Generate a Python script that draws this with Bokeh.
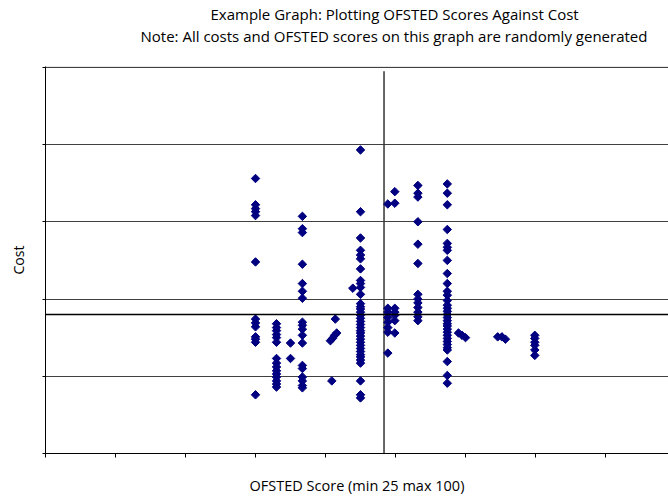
import numpy as np
from bokeh.plotting import figure
from bokeh.models import Title, Span, FixedTicker
from bokeh.embed import file_html
from bokeh.resources import INLINE

# ---- data ----
title_line1 = "Example Graph: Plotting OFSTED Scores Against Cost"
title_line2 = "Note: All costs and OFSTED scores on this graph are randomly generated"
x_label = "OFSTED Score (min 25 max 100)"
y_label = "Cost"

x_ticks = [0, 10, 20, 30, 40, 50, 60, 70, 80]
y_ticks = [0, 1, 2, 3, 4, 5]

ofsted_scores = (
    [30.0] * 13
    + [33.0] * 15
    + [35.0] * 2
    + [36.7] * 18
    + [40.7, 41.0, 41.3, 41.6, 41.4, 40.9]
    + [43.9]
    + [45.0] * 35
    + [48.9] * 8
    + [49.9] * 7
    + [53.2] * 13
    + [57.4] * 32
    + [59.0, 59.5, 60.0]
    + [64.6, 65.2, 65.7]
    + [69.9] * 6
)
costs = (
    [3.56, 3.22, 3.17, 3.13, 3.08, 2.48, 1.74, 1.69, 1.64, 1.51, 1.48, 1.44, 0.76]
    + [1.68, 1.63, 1.59, 1.54, 1.50, 1.44, 1.23, 1.17, 1.12, 1.07, 1.03, 0.99, 0.94, 0.90, 0.86]
    + [1.43, 1.23]
    + [3.07, 2.91, 2.86, 2.45, 2.20, 2.10, 2.01, 1.70, 1.66, 1.61, 1.53, 1.43, 1.14, 1.10, 0.99, 0.94, 0.88, 0.85]
    + [1.46, 1.49, 1.53, 1.56, 1.74, 0.94]
    + [2.14]
    + [3.93, 3.13, 2.79, 2.63, 2.57, 2.52, 2.39, 2.24, 2.20, 2.15, 2.06,
       1.94, 1.90, 1.87, 1.83, 1.79, 1.75, 1.71, 1.67, 1.63, 1.59, 1.56, 1.52, 1.48,
       1.44, 1.40, 1.36, 1.32, 1.28, 1.25, 1.21, 1.17, 0.94, 0.76, 0.72]
    + [3.23, 1.88, 1.83, 1.76, 1.70, 1.63, 1.57, 1.30]
    + [3.39, 3.24, 1.88, 1.83, 1.79, 1.72, 1.56]
    + [3.47, 3.37, 3.32, 3.00, 2.71, 2.46, 2.06, 2.00, 1.95, 1.89, 1.83, 1.77, 1.72]
    + [3.49, 3.37, 3.22, 2.90, 2.72, 2.67, 2.63, 2.50, 2.33, 2.20, 2.10, 2.05, 1.98, 1.92,
       1.88, 1.84, 1.80, 1.76, 1.72, 1.68, 1.65, 1.61, 1.57, 1.53, 1.49, 1.45, 1.41,
       1.37, 1.34, 1.19, 1.01, 0.91]
    + [1.56, 1.53, 1.50]
    + [1.51, 1.51, 1.48]
    + [1.53, 1.49, 1.44, 1.40, 1.34, 1.27]
)

mean_score = 48.36          # vertical reference line
mean_score_extent = [0.0, 4.95]
mean_cost = 1.80            # horizontal reference line

FONT = "Open Sans"

p = figure(width=668, height=497, x_range=(0, 89), y_range=(0, 5.01),
           output_backend="svg", toolbar_location=None,
           min_border_left=45, min_border_right=0, min_border_top=66, min_border_bottom=44)
p.outline_line_color = None
p.background_fill_color = "white"
p.border_fill_color = "white"

# axes (no tick labels in the reference)
p.xaxis.ticker = FixedTicker(ticks=x_ticks)
p.yaxis.ticker = FixedTicker(ticks=y_ticks)
for ax in (p.xaxis, p.yaxis):
    ax.major_label_text_font_size = "0px"
    ax.major_label_standoff = 0
    ax.major_tick_in = 0
    ax.minor_tick_in = 0
    ax.minor_tick_out = 0
    ax.axis_line_color = "black"
    ax.axis_line_width = 1
    ax.major_tick_line_color = "black"
    ax.axis_label_text_font = FONT
    ax.axis_label_text_font_style = "normal"
    ax.axis_label_text_color = "black"
p.xaxis.axis_label_text_font_size = "14.5px"
p.yaxis.axis_label_text_font_size = "14px"
p.xaxis.major_tick_out = 4
p.yaxis.major_tick_out = 3
p.xaxis.axis_label = x_label
p.yaxis.axis_label = y_label
p.xaxis.axis_label_standoff = 18
p.yaxis.axis_label_standoff = 15

# grid
p.xgrid.visible = False
p.ygrid.ticker = FixedTicker(ticks=y_ticks)
p.ygrid.grid_line_color = "#404040"
p.ygrid.grid_line_width = 1
p.add_layout(Span(location=y_ticks[-1], dimension="width", line_color="#404040", line_width=1.2))

# reference lines
p.add_layout(Span(location=mean_cost, dimension="width", line_color="black", line_width=1.5))
p.segment(x0=[mean_score], y0=[mean_score_extent[0]], x1=[mean_score], y1=[mean_score_extent[1]],
          line_color="#333333", line_width=1.5)

# points
p.scatter(ofsted_scores, costs, marker="square", angle=np.pi / 4, size=6,
          fill_color="#000080", line_color="#000080")

# two-line title (second line is closest to the plot)
p.add_layout(Title(text=title_line2, align="left", offset=95, standoff=0,
                   padding=dict(left=0, right=0, top=0, bottom=21),
                   background_fill_color=None, border_line_color=None,
                   text_font=FONT, text_font_size="15px", text_font_style="normal",
                   text_color="black"), "above")
p.add_layout(Title(text=title_line1, align="left", offset=165, standoff=0,
                   background_fill_color=None, border_line_color=None,
                   text_font=FONT, text_font_size="15px", text_font_style="normal",
                   text_color="black"), "above")

open("out.html", "w").write(file_html(p, INLINE))
